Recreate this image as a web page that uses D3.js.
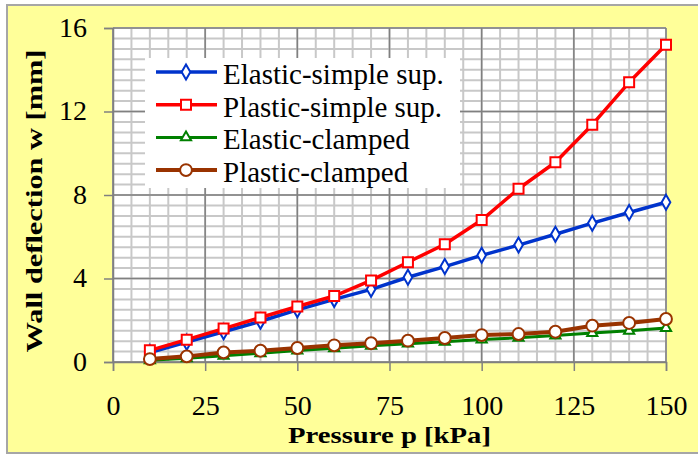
<!DOCTYPE html>
<html>
<head>
<meta charset="utf-8">
<script src="https://cdn.jsdelivr.net/npm/d3@7"></script>
<style>
  body { margin: 0; background: #fff; }
</style>
</head>
<body>
<div id="chart"></div>
<script>
// Data
const pressure = [10, 20, 30, 40, 50, 60, 70, 80, 90, 100, 110, 120, 130, 140, 150];
const elasticSimple = [0.45, 0.95, 1.45, 1.95, 2.5, 3.0, 3.48, 4.06, 4.57, 5.11, 5.6, 6.12, 6.65, 7.16, 7.65];
const plasticSimple = [0.56, 1.07, 1.6, 2.13, 2.66, 3.16, 3.91, 4.78, 5.64, 6.8, 8.3, 9.57, 11.37, 13.4, 15.2];
const elasticClamped = [0.08, 0.18, 0.3, 0.42, 0.55, 0.66, 0.78, 0.88, 0.97, 1.08, 1.16, 1.27, 1.39, 1.5, 1.63];
const plasticClamped = [0.14, 0.27, 0.46, 0.54, 0.67, 0.8, 0.9, 1.02, 1.15, 1.29, 1.34, 1.45, 1.74, 1.87, 2.06];
const seriesNames = ["Elastic-simple sup.", "Plastic-simple sup.", "Elastic-clamped", "Plastic-clamped"];
const xTicks = [0, 25, 50, 75, 100, 125, 150];
const yTicks = [0, 4, 8, 12, 16];

const W = 698, H = 456;
const plot = { left: 113, right: 666, top: 28, bottom: 362 };
const serif = "'Liberation Serif', 'Times New Roman', serif";

const svg = d3.select("#chart").append("svg")
    .attr("width", W)
    .attr("height", H)
    .attr("font-family", serif);

// Chart area background + frame
svg.append("rect")
    .attr("x", 7).attr("y", 5)
    .attr("width", W + 10).attr("height", 448)
    .attr("fill", "#ffff99")
    .attr("stroke", "#a6a6a6")
    .attr("stroke-width", 2);

const x = d3.scaleLinear().domain([0, 150]).range([plot.left, plot.right]);
const y = d3.scaleLinear().domain([0, 16]).range([plot.bottom, plot.top]);

// Plot area
svg.append("rect")
    .attr("x", plot.left).attr("y", plot.top)
    .attr("width", plot.right - plot.left).attr("height", plot.bottom - plot.top)
    .attr("fill", "#ffffff");

// Minor grid
svg.append("g")
    .selectAll("line")
    .data(d3.range(0, 16.01, 0.5))
    .join("line")
    .attr("x1", plot.left).attr("x2", plot.right)
    .attr("y1", d => y(d)).attr("y2", d => y(d))
    .attr("stroke", "#c8c8c8").attr("stroke-width", 2);

svg.append("g")
    .selectAll("line")
    .data(d3.range(0, 150.01, 5))
    .join("line")
    .attr("y1", plot.top).attr("y2", plot.bottom)
    .attr("x1", d => x(d)).attr("x2", d => x(d))
    .attr("stroke", "#c8c8c8").attr("stroke-width", 2);

// Major grid
svg.append("g")
    .selectAll("line")
    .data(yTicks)
    .join("line")
    .attr("x1", plot.left).attr("x2", plot.right)
    .attr("y1", d => y(d)).attr("y2", d => y(d))
    .attr("stroke", "#808080").attr("stroke-width", 1.5);

svg.append("g")
    .selectAll("line")
    .data(xTicks)
    .join("line")
    .attr("y1", plot.top).attr("y2", plot.bottom)
    .attr("x1", d => x(d)).attr("x2", d => x(d))
    .attr("stroke", "#808080").attr("stroke-width", 1.5);

// Axes
const xAxis = svg.append("g")
    .attr("transform", `translate(0,${plot.bottom})`)
    .call(d3.axisBottom(x).tickValues(xTicks).tickSize(9).tickPadding(24).tickFormat(d3.format("d")));
const yAxis = svg.append("g")
    .attr("transform", `translate(${plot.left},0)`)
    .call(d3.axisLeft(y).tickValues(yTicks).tickSize(9).tickPadding(17).tickFormat(d3.format("d")));

[xAxis, yAxis].forEach(g => {
    g.attr("font-family", serif).attr("font-size", 28);
    g.select(".domain").attr("stroke", "#808080").attr("stroke-width", 1.5);
    g.selectAll(".tick line").attr("stroke", "#808080").attr("stroke-width", 1.5);
    g.selectAll(".tick text").attr("fill", "#000");
});
yAxis.selectAll(".tick text").attr("dy", "0.3em");

// Axis titles
svg.append("text")
    .attr("x", (plot.left + plot.right) / 2)
    .attr("y", 443)
    .attr("text-anchor", "middle")
    .attr("font-weight", "bold")
    .attr("font-size", 23)
    .attr("textLength", 203)
    .attr("lengthAdjust", "spacingAndGlyphs")
    .text("Pressure p [kPa]");

svg.append("text")
    .attr("transform", "translate(42,201) rotate(-90)")
    .attr("text-anchor", "middle")
    .attr("font-weight", "bold")
    .attr("font-size", 24)
    .attr("textLength", 303)
    .attr("lengthAdjust", "spacingAndGlyphs")
    .text("Wall  deflection  w  [mm]");

// Series
const series = [
    { name: seriesNames[0], values: elasticSimple, color: "#0033cc", width: 3.5, symbol: d3.symbolDiamond, size: 65 },
    { name: seriesNames[1], values: plasticSimple, color: "#ff0000", width: 3.5, symbol: d3.symbolSquare, size: 100 },
    { name: seriesNames[2], values: elasticClamped, color: "#008000", width: 3, symbol: d3.symbolTriangle, size: 45 },
    { name: seriesNames[3], values: plasticClamped, color: "#993300", width: 4, symbol: d3.symbolCircle, size: 110 }
];

const line = d3.line()
    .x((d, i) => x(pressure[i]))
    .y(d => y(d));

series.forEach(s => {
    svg.append("path")
        .datum(s.values)
        .attr("fill", "none")
        .attr("stroke", s.color)
        .attr("stroke-width", s.width)
        .attr("stroke-linejoin", "round")
        .attr("d", line);

    svg.append("g")
        .selectAll("path")
        .data(s.values)
        .join("path")
        .attr("transform", (d, i) => `translate(${x(pressure[i])},${y(d)})`)
        .attr("d", d3.symbol().type(s.symbol).size(s.size))
        .attr("fill", "#fff")
        .attr("stroke", s.color)
        .attr("stroke-width", 2);
});

// Legend
const legend = svg.append("g");
legend.append("rect")
    .attr("x", 145).attr("y", 58)
    .attr("width", 315).attr("height", 130)
    .attr("fill", "#fff");

const rows = legend.selectAll("g.row")
    .data(series)
    .join("g")
    .attr("class", "row")
    .attr("transform", (d, i) => `translate(0,${72 + i * 32.7})`);

rows.append("line")
    .attr("x1", 156).attr("x2", 217)
    .attr("stroke", d => d.color)
    .attr("stroke-width", d => d.width);

rows.append("path")
    .attr("transform", "translate(186,0)")
    .attr("d", d => d3.symbol().type(d.symbol).size(d.size)())
    .attr("fill", "#fff")
    .attr("stroke", d => d.color)
    .attr("stroke-width", 2);

rows.append("text")
    .attr("x", 223)
    .attr("y", 12)
    .attr("font-size", 29)
    .attr("fill", "#000")
    .text(d => d.name);
</script>
</body>
</html>
